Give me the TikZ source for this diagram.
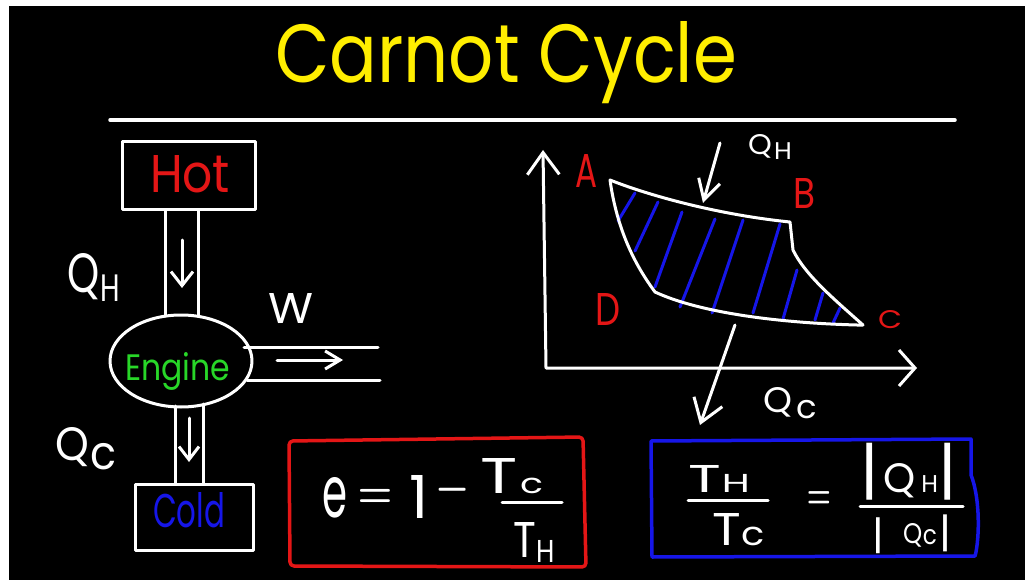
\documentclass[tikz,border=0pt]{standalone}
\usepackage[no-math]{fontspec}
\setmainfont{Poppins}
\usepackage{graphicx}
\usetikzlibrary{arrows.meta,shapes.geometric}
\definecolor{ttl}{RGB}{255,238,0}
\definecolor{hred}{RGB}{228,22,22}
\definecolor{hgreen}{RGB}{40,215,40}
\definecolor{hblue}{RGB}{22,22,232}
\newcommand\hs[2]{{\fontsize{#1}{#1}\selectfont #2}}
\tikzset{
  txt/.style={inner sep=0pt, outer sep=0pt, anchor=base west},
  ctxt/.style={inner sep=0pt, outer sep=0pt, anchor=center},
  chalk/.style={draw=white, line width=3pt, line cap=round, line join=round},
  hatch/.style={draw=hblue, line width=3pt, line cap=round},
}
\begin{document}
\begin{tikzpicture}[x=1pt, y=-1pt]
\useasboundingbox (0,0) rectangle (1025,580);
\fill[white] (0,0) rectangle (1025,580);
\fill[black] (9,6) rectangle (1025,580);

% title
\node[txt, text=ttl] (title) at (275,83) {\resizebox{462pt}{61pt}{Carnot Cycle}};
\coordinate (rl) at (110,120);
\coordinate (rr) at (955,120);
\draw[chalk, line width=3.5pt] (rl) -- (rr);

% ---------- heat engine ----------
\node[chalk, rectangle, minimum width=133pt, minimum height=68pt] (hot) at (188.5,176) {};
\node[txt, text=hred] (hotlbl) at (150,193) {\resizebox{80pt}{37pt}{Hot}};

\node[chalk, ellipse, minimum width=142pt, minimum height=92pt, inner sep=0pt] (engine) at (181,361) {};
\node[txt, text=hgreen] (englbl) at (125,380) {\resizebox{105pt}{28pt}{Engine}};

\node[chalk, rectangle, minimum width=118pt, minimum height=66pt] (cold) at (194,517) {};
\node[txt, text=hblue] (coldlbl) at (153,527) {\resizebox{72pt}{35pt}{Cold}};

% pipe hot -> engine
\coordinate (ha1) at (165,210); \coordinate (hb1) at (165,316);
\coordinate (ha2) at (198,210); \coordinate (hb2) at (198,316);
\draw[chalk] (ha1) -- (hb1);
\draw[chalk] (ha2) -- (hb2);
\coordinate (hq1) at (182,240); \coordinate (hq2) at (182,288);
\draw[chalk, -{Straight Barb[length=14pt,width=22pt]}] (hq1) -- (hq2);

% pipe engine -> cold
\coordinate (ca1) at (175,406); \coordinate (cb1) at (175,484);
\coordinate (ca2) at (203,404); \coordinate (cb2) at (203,484);
\draw[chalk] (ca1) -- (cb1);
\draw[chalk] (ca2) -- (cb2);
\coordinate (cq1) at (189,418); \coordinate (cq2) at (189,462);
\draw[chalk, -{Straight Barb[length=13pt,width=20pt]}] (cq1) -- (cq2);

% work pipe
\coordinate (wa1) at (244,347); \coordinate (wb1) at (378,347);
\coordinate (wa2) at (247,380); \coordinate (wb2) at (380,380);
\draw[chalk] (wa1) -- (wb1);
\draw[chalk] (wa2) -- (wb2);
\coordinate (wq1) at (277,360); \coordinate (wq2) at (343,360);
\draw[chalk, -{Straight Barb[length=15pt,width=18pt]}] (wq1) -- (wq2);
\node[txt, text=white] (wlbl) at (268,323) {\resizebox{45pt}{30pt}{W}};

\node[txt, text=white] (qhl) at (67,292) {\resizebox{53pt}{39pt}{Q\kern0.3pt\raisebox{-1.8pt}{\hs{6.9}{H}}}};
\node[txt, text=white] (qcl) at (55,460) {\resizebox{62pt}{33pt}{Q\kern0.5pt\raisebox{-2.1pt}{c}}};

% ---------- P-V diagram ----------
\coordinate (ytop) at (543,150);
\coordinate (orig) at (546,368);
\coordinate (xend) at (917,368);
\draw[chalk, {Straight Barb[length=22pt,width=32pt]}-{Straight Barb[length=16pt,width=36pt]}] (ytop) -- (orig) -- (xend);

\coordinate (A) at (610,180);
\coordinate (B) at (790,222);
\coordinate (Bd) at (793,250);
\coordinate (C) at (863,325);
\coordinate (Cb) at (857,325);
\coordinate (D) at (655,292);

% hatching
\foreach \a/\b [count=\i] in {{635,193}/{618,221}, {658,202}/{635,251}, {682,212}/{655,287},
  {715,219}/{680,307}, {743,220}/{712,313}, {780,224}/{753,313}, {797,270}/{783,319},
  {823,293}/{815,320}, {840,308}/{833,323}}
  { \coordinate (h\i a) at (\a); \coordinate (h\i b) at (\b); \draw[hatch] (h\i a) -- (h\i b); }

\draw[chalk] (A) .. controls (650,196) and (720,215) .. (B)
  -- (Bd) .. controls (805,275) and (835,300) .. (C) -- (Cb)
  .. controls (780,323) and (700,313) .. (D)
  .. controls (635,265) and (617,230) .. (A) -- cycle;

\coordinate (qh1) at (720,143); \coordinate (qh2) at (703,203);
\draw[chalk, -{Straight Barb[length=20pt,width=22pt]}] (qh1) -- (qh2);
\coordinate (qc1) at (735,325); \coordinate (qc2) at (700,425);
\draw[chalk, -{Straight Barb[length=22pt,width=30pt]}] (qc1) -- (qc2);

\node[txt, text=white] (qhg) at (748,155) {\resizebox{44pt}{20pt}{Q\kern0.8pt\raisebox{-1.7pt}{\hs{8.5}{H}}}};
\node[txt, text=white] (qcg) at (763,412) {\resizebox{54pt}{25pt}{Q\kern1.2pt\raisebox{-1.7pt}{\hs{9.2}{c}}}};

\node[txt, text=hred] (la) at (575,188) {\resizebox{22pt}{33pt}{A}};
\node[txt, text=hred] (lb) at (793,208) {\resizebox{22pt}{30pt}{B}};
\node[txt, text=hred] (lc) at (878,328) {\resizebox{24pt}{18pt}{C}};
\node[txt, text=hred] (ld) at (595,325) {\resizebox{25pt}{32pt}{D}};

% ---------- efficiency box ----------
\draw[hred, line width=3.5pt, rounded corners=4pt, line join=round] (289,441) -- (583,437) -- (586,567) -- (290,566) -- cycle;
\node[txt, text=white] (fe) at (322,517) {\resizebox{25pt}{40pt}{e}};
\node[ctxt, text=white] (feq) at (375,499) {\scalebox{3.9}[4.6]{\boldmath$=$}};
\node[txt, text=white] (fone) at (409,518) {\resizebox*{!}{43pt}{1}};
\node[ctxt, text=white] (fmin) at (453,490) {\scalebox{4.4}[7.5]{$-$}};
\node[txt, text=white] (ftc) at (480,493) {\resizebox{63pt}{35pt}{T\kern0.4pt\hs{5.5}{c}}};
\coordinate (fb1) at (502,502); \coordinate (fb2) at (562,502);
\draw[chalk] (fb1) -- (fb2);
\node[txt, text=white] (fth) at (513,557) {\resizebox{42pt}{35pt}{T\kern0.2pt\raisebox{-1pt}{\hs{6.3}{H}}}};

% ---------- ratio box ----------
\draw[hblue, line width=3.5pt, line join=round, line cap=round] (651,441) -- (971,439) -- (971,475)
  .. controls (979,495) and (980,530) .. (976,552) -- (975,556) -- (652,557) -- cycle;
\node[txt, text=white] (rth) at (688,492) {\resizebox{62pt}{27pt}{T\kern0.2pt\hs{6.7}{H}}};
\coordinate (rb1) at (688,500); \coordinate (rb2) at (768,500);
\draw[chalk] (rb1) -- (rb2);
\node[txt, text=white] (rtc) at (712,545) {\resizebox{53pt}{32pt}{T\kern0.2pt\hs{7.2}{c}}};
\node[ctxt, text=white] (req) at (819,500) {\scalebox{2.7}[4.3]{\boldmath$=$}};

\node[ctxt, text=white] (bar1) at (870,471.5) {\resizebox*{!}{57pt}{|}};
\node[txt, text=white] (rqh) at (883,492) {\resizebox{55pt}{29pt}{Q\kern1.5pt\hs{5.9}{H}}};
\node[ctxt, text=white] (bar2) at (948,471.5) {\resizebox*{!}{57pt}{|}};
\coordinate (rb3) at (860,506); \coordinate (rb4) at (963,506);
\draw[chalk] (rb3) -- (rb4);
\node[ctxt, text=white] (bar3) at (878,535.5) {\resizebox*{!}{36pt}{|}};
\node[txt, text=white] (rqc) at (903,543) {\resizebox{34pt}{20pt}{Q\kern0.3pt\raisebox{-0.7pt}{\hs{9.5}{c}}}};
\node[ctxt, text=white] (bar4) at (945,533.5) {\resizebox*{!}{37pt}{|}};
\end{tikzpicture}
\end{document}
